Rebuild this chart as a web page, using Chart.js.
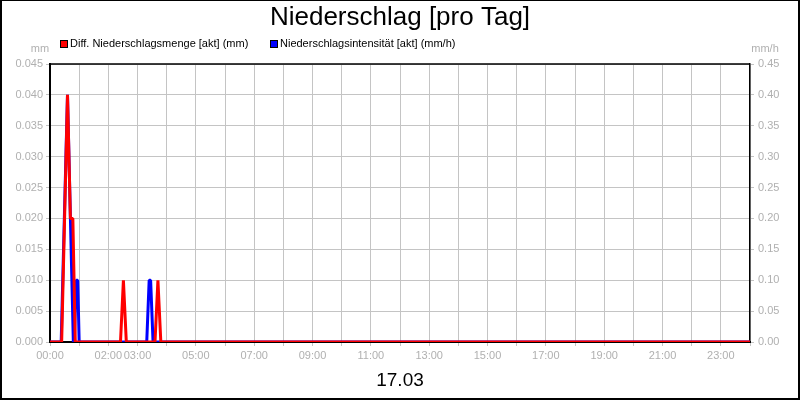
<!DOCTYPE html>
<html>
<head>
<meta charset="utf-8">
<script src="https://cdn.jsdelivr.net/npm/chart.js@4"></script>
<style>
  html, body { margin: 0; padding: 0; background: #fff; }
  #wrap { width: 800px; height: 400px; box-sizing: border-box; border: 2px solid #000; border-top-width: 1px; }
  #wrap canvas { display: block; }
</style>
</head>
<body>
<div id="wrap"><canvas id="chart" width="796" height="397"></canvas></div>
<script>
// Niederschlag 17.03 — time in minutes since 00:00
const rainTimes = [0, 24, 36, 42, 47, 52, 145, 151, 157, 216, 222, 228, 1440];
const rainValues = [0, 0, 0.04, 0.02, 0.02, 0, 0, 0.01, 0, 0, 0.01, 0, 0];

const rateTimes = [0, 23, 36, 48, 50, 54, 57, 60, 199, 204, 207, 212, 1440];
const rateValues = [0, 0, 0.4, 0, 0, 0.1, 0.1, 0, 0, 0.1, 0.1, 0, 0];

const labelHours = [0, 2, 3, 5, 7, 9, 11, 13, 15, 17, 19, 21, 23];

const FONT = "'Liberation Sans', Arial, sans-serif";
const GRAY = "#b0b0b0";
const GRID = "#c4c4c4";

function pairs(xs, ys) {
  return xs.map((x, i) => ({ x, y: ys[i] }));
}

function hhmm(min) {
  const h = Math.round(min / 60);
  return String(h).padStart(2, "0") + ":00";
}

// title, legend, units and the top frame line
const decor = {
  id: "decor",
  beforeDatasetsDraw(chart) {
    const { ctx, chartArea: a } = chart;
    ctx.save();
    ctx.strokeStyle = "#000";
    ctx.lineWidth = 1.5;
    ctx.beginPath();
    ctx.moveTo(a.left, a.top);
    ctx.lineTo(a.right, a.top);
    ctx.stroke();
    ctx.restore();
  },
  afterDraw(chart) {
    const ctx = chart.ctx;
    ctx.save();
    ctx.textBaseline = "middle";

    ctx.fillStyle = "#000";
    ctx.textAlign = "center";
    ctx.font = "26px " + FONT;
    ctx.fillText("Niederschlag [pro Tag]", 398, 17);

    ctx.font = "11px " + FONT;
    ctx.textAlign = "left";
    chart.data.datasets.forEach((ds, i) => {
      const x = i === 0 ? 58 : 268;
      ctx.fillStyle = ds.borderColor;
      ctx.fillRect(x, 39, 8, 8);
      ctx.strokeStyle = "#000";
      ctx.lineWidth = 1;
      ctx.strokeRect(x + 0.5, 39.5, 7, 7);
      ctx.fillStyle = "#000";
      ctx.fillText(ds.label, x + 10, 43);
    });

    ctx.fillStyle = GRAY;
    ctx.textAlign = "center";
    ctx.fillText("mm", 38, 48);
    ctx.fillText("mm/h", 763, 48);
    ctx.restore();
  },
};

new Chart(document.getElementById("chart"), {
  type: "line",
  data: {
    datasets: [
      {
        label: "Diff. Niederschlagsmenge [akt] (mm)",
        data: pairs(rainTimes, rainValues),
        yAxisID: "y",
        borderColor: "#ff0000",
        borderWidth: 3,
        borderJoinStyle: "bevel",
        pointRadius: 0,
        tension: 0,
        clip: 0,
      },
      {
        label: "Niederschlagsintensität [akt] (mm/h)",
        data: pairs(rateTimes, rateValues),
        yAxisID: "y1",
        borderColor: "#0000ff",
        borderWidth: 3,
        borderJoinStyle: "bevel",
        pointRadius: 0,
        tension: 0,
        clip: 0,
      },
    ],
  },
  options: {
    responsive: false,
    animation: false,
    layout: { padding: { top: 63, left: 0, right: 0, bottom: 0 } },
    plugins: { legend: { display: false }, title: { display: false }, tooltip: { enabled: false } },
    scales: {
      x: {
        type: "linear",
        min: 0,
        max: 1440,
        afterFit: (s) => { s.height = 56; },
        ticks: {
          stepSize: 60,
          autoSkip: false,
          maxRotation: 0,
          padding: 3,
          color: GRAY,
          font: { family: FONT, size: 11 },
          callback: (v) => (labelHours.includes(v / 60) ? hhmm(v) : ""),
        },
        grid: { color: GRID, tickLength: 4 },
        border: { color: "#000", width: 2 },
        title: {
          display: true,
          text: "17.03",
          color: "#000",
          font: { family: FONT, size: 19 },
          padding: { top: 0, bottom: 6 },
        },
      },
      y: {
        position: "left",
        min: 0,
        max: 0.045,
        afterFit: (s) => { s.width = 48; },
        ticks: {
          stepSize: 0.005,
          padding: 3,
          color: GRAY,
          font: { family: FONT, size: 11 },
          callback: (v) => v.toFixed(3),
        },
        grid: { color: GRID, tickLength: 4 },
        border: { color: "#000", width: 2 },
      },
      y1: {
        position: "right",
        min: 0,
        max: 0.45,
        afterFit: (s) => { s.width = 48; },
        ticks: {
          stepSize: 0.05,
          padding: 4,
          color: GRAY,
          font: { family: FONT, size: 11 },
          callback: (v) => v.toFixed(2),
        },
        grid: { color: GRID, tickLength: 4, drawOnChartArea: false },
        border: { color: "#000", width: 1.5 },
      },
    },
  },
  plugins: [decor],
});
</script>
</body>
</html>
